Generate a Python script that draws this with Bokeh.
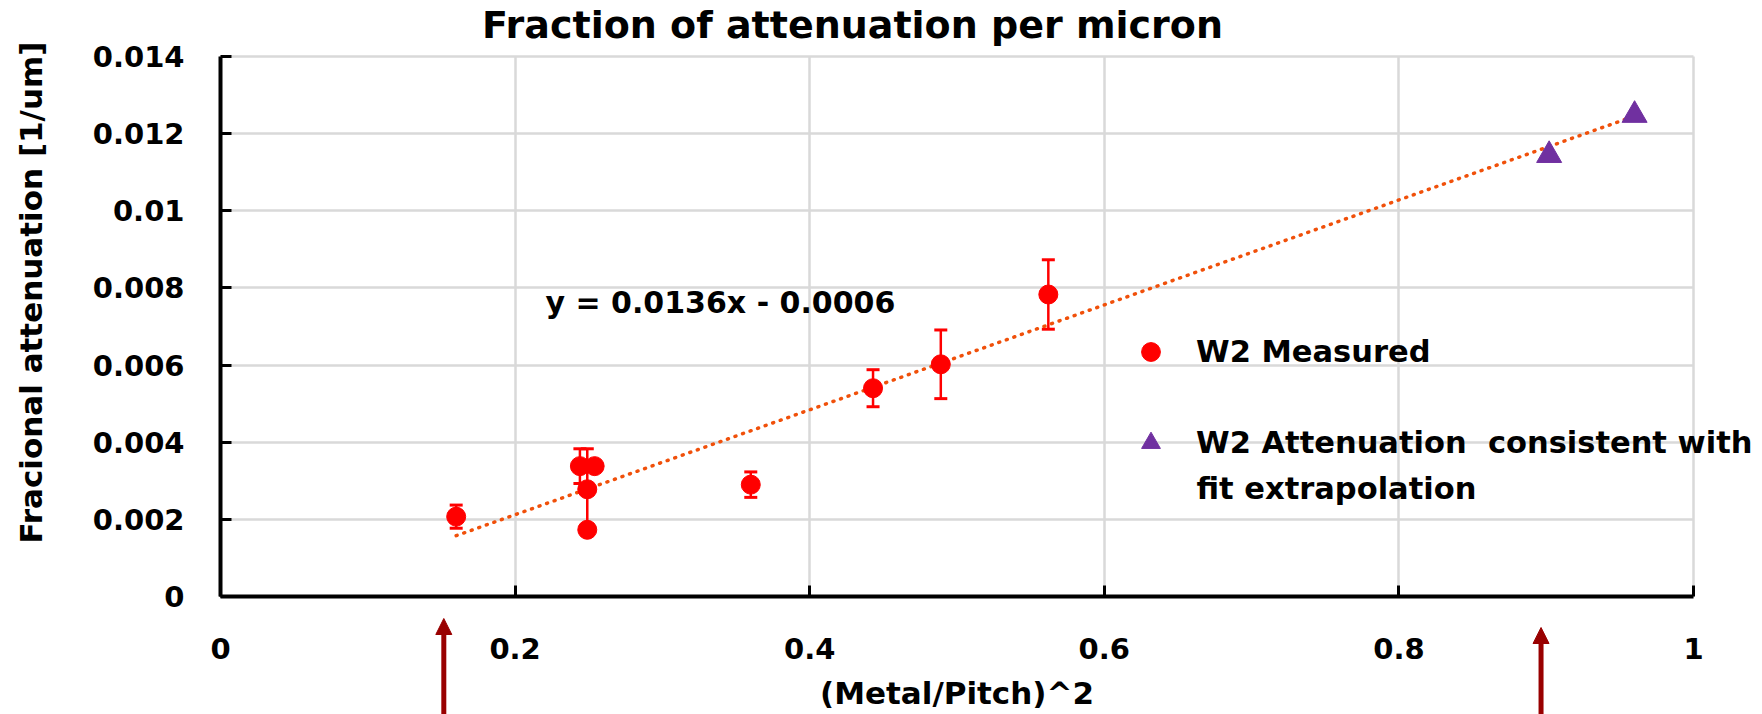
import math
from bokeh.plotting import figure
from bokeh.models import (ColumnDataSource, Whisker, TeeHead, Label, Arrow, NormalHead,
                          FixedTicker, Legend, LegendItem, Range1d)
from bokeh.embed import file_html
from bokeh.resources import INLINE

# ---------------- data ----------------
measured_x = [0.16, 0.244, 0.249, 0.249, 0.254, 0.36, 0.443, 0.489, 0.562]
measured_y = [0.00207, 0.00338, 0.00278, 0.00173, 0.00338, 0.0029, 0.0054, 0.00602, 0.00783]
measured_err = [0.0003, 0.00045, 0.00105, 0.0, 0.0, 0.00033, 0.00048, 0.00089, 0.0009]

consistent_x = [0.902, 0.960]
consistent_y = [0.01144, 0.01248]

fit_slope = 0.0136
fit_intercept = -0.0006
fit_x = [0.16, 0.96]
fit_label = "y = 0.0136x - 0.0006"

arrow_x = [0.1516, 0.8965]

x_ticks = [0, 0.2, 0.4, 0.6, 0.8, 1]
x_tick_labels = ["0", "0.2", "0.4", "0.6", "0.8", "1"]
y_ticks = [0, 0.002, 0.004, 0.006, 0.008, 0.01, 0.012, 0.014]
y_tick_labels = ["0", "0.002", "0.004", "0.006", "0.008", "0.01", "0.012", "0.014"]

title_text = "Fraction of attenuation per micron"
x_label = "(Metal/Pitch)^2"
y_label = "Fracional attenuation [1/um]"
legend_labels = ["W2 Measured", "W2 Attenuation  consistent with"]
legend_label_cont = "fit extrapolation"

# ---------------- style / layout ----------------
FONT = "DejaVu Sans"
RED = "#FF0000"
PURPLE = "#7030A0"
FIT = "#F0500A"
ARROW = "#990000"
GRID = "#D9D9D9"

W, H = 1762, 714
# pixel box of the data area inside the canvas
DL, DR, DT, DB = 220, 1693, 56, 596
XMIN, XMAX = 0.0, 1.0
YMIN, YMAX = 0.0, 0.014
ppx = (DR - DL) / (XMAX - XMIN)
ppy = (DB - DT) / (YMAX - YMIN)
x_range = Range1d(XMIN - DL / ppx, XMAX + (W - DR) / ppx)
y_range = Range1d(YMIN - (H - DB) / ppy, YMAX + DT / ppy)

p = figure(width=W, height=H, x_range=x_range, y_range=y_range,
           output_backend="svg", toolbar_location=None, min_border=0)
try:
    p.title = None
except Exception:
    p.title.text = ""
p.outline_line_color = None
p.background_fill_color = "white"
p.border_fill_color = "white"

# grid limited to the data area
xg, yg = p.xgrid[0], p.ygrid[0]
xg.ticker = FixedTicker(ticks=x_ticks)
yg.ticker = FixedTicker(ticks=y_ticks)
if "cross_bounds" in xg.properties():
    xg.bounds = (XMIN, XMAX)
    xg.cross_bounds = (YMIN, YMAX)
    yg.bounds = (YMIN, YMAX)
    yg.cross_bounds = (XMIN, XMAX)
    for g in (xg, yg):
        g.grid_line_color = GRID
        g.grid_line_width = 2.5
else:
    xg.visible = False
    yg.visible = False
    p.segment(x0=x_ticks, y0=[YMIN] * len(x_ticks), x1=x_ticks, y1=[YMAX] * len(x_ticks),
              line_color=GRID, line_width=2.5, level="underlay")
    p.segment(x0=[XMIN] * len(y_ticks), y0=y_ticks, x1=[XMAX] * len(y_ticks), y1=y_ticks,
              line_color=GRID, line_width=2.5, level="underlay")

# axes drawn at the data origin (take no panel space)
for ax in (p.xaxis[0], p.yaxis[0]):
    ax.axis_line_color = "black"
    ax.axis_line_width = 4
    ax.major_tick_line_color = "black"
    ax.major_tick_line_width = 3
    ax.major_tick_in = 11
    ax.major_tick_out = 0
    ax.minor_tick_line_color = None
    ax.major_label_text_font = FONT
    ax.major_label_text_font_style = "bold"
    ax.major_label_text_font_size = "29px"
    ax.major_label_text_color = "black"
    ax.fixed_location = 0
p.xaxis[0].bounds = (XMIN, XMAX)
p.yaxis[0].bounds = (YMIN, YMAX)
p.xaxis[0].ticker = FixedTicker(ticks=x_ticks)
p.yaxis[0].ticker = FixedTicker(ticks=y_ticks)
p.xaxis[0].major_label_overrides = {t: s for t, s in zip(x_ticks, x_tick_labels)}
p.yaxis[0].major_label_overrides = {t: s for t, s in zip(y_ticks, y_tick_labels)}
p.xaxis[0].major_label_standoff = 41
p.yaxis[0].major_label_standoff = 36

# error bars
err_src = ColumnDataSource(dict(
    x=measured_x,
    upper=[y + e for y, e in zip(measured_y, measured_err)],
    lower=[y - e for y, e in zip(measured_y, measured_err)],
))
wh = Whisker(source=err_src, base="x", upper="upper", lower="lower", dimension="height",
             line_color=RED, line_width=2.5, level="underlay",
             upper_head=TeeHead(size=13, line_color=RED, line_width=3),
             lower_head=TeeHead(size=13, line_color=RED, line_width=3))
p.add_layout(wh)

# fit line
fit_y = [fit_slope * x + fit_intercept for x in fit_x]
p.line(fit_x, fit_y, line_color=FIT, line_width=3.5, line_dash="1 7", line_cap="round")

# markers
r_meas = p.scatter(measured_x, measured_y, marker="circle", size=19,
                   fill_color=RED, line_color=RED)
r_cons = p.scatter(consistent_x, consistent_y, marker="triangle", size=25,
                   fill_color=PURPLE, line_color=PURPLE)

# legend
legend = Legend(items=[LegendItem(label=legend_labels[0], renderers=[r_meas]),
                       LegendItem(label=legend_labels[1], renderers=[r_cons])],
                location=(1127, 248), orientation="vertical",
                label_text_font=FONT, label_text_font_style="bold",
                label_text_font_size="30.5px", label_text_color="black",
                glyph_width=47, glyph_height=47, label_standoff=22, spacing=44,
                padding=0, margin=0, border_line_color=None, background_fill_alpha=0)
p.add_layout(legend)

def screen_label(x, y, text, size, **kw):
    p.add_layout(Label(x=x, y=y, x_units="screen", y_units="screen", text=text,
                       text_font=FONT, text_font_style="bold", text_font_size=size,
                       text_color="black", **kw))

BASE_FIX = 10  # empirical alphabetic-baseline correction
# second line of the legend label
screen_label(1196, H - 498 + BASE_FIX, legend_label_cont, "30.5px",
             text_align="left", text_baseline="alphabetic")
# equation
screen_label(545, H - 312 + BASE_FIX, fit_label, "30px",
             text_align="left", text_baseline="alphabetic")
# title
screen_label(852, H - 34 + BASE_FIX, title_text, "38px",
             text_align="center", text_baseline="alphabetic")
# x axis label
screen_label((DL + DR) / 2, H - 702 + BASE_FIX, x_label, "31px",
             text_align="center", text_baseline="alphabetic")
# y axis label (rotated)
screen_label(30, H - 292, y_label, "31px", angle=math.pi / 2,
             text_align="center", text_baseline="middle")

# arrows below the axis
tips = [YMIN - 22 / ppy, YMIN - 31 / ppy]
bottom = YMIN - (H - DB + 10) / ppy
for ax_, tip in zip(arrow_x, tips):
    p.add_layout(Arrow(x_start=ax_, y_start=bottom, x_end=ax_, y_end=tip,
                       line_color=ARROW, line_width=5,
                       end=NormalHead(size=16, fill_color=ARROW, line_color=ARROW)))

open("out.html", "w").write(file_html(p, INLINE))
